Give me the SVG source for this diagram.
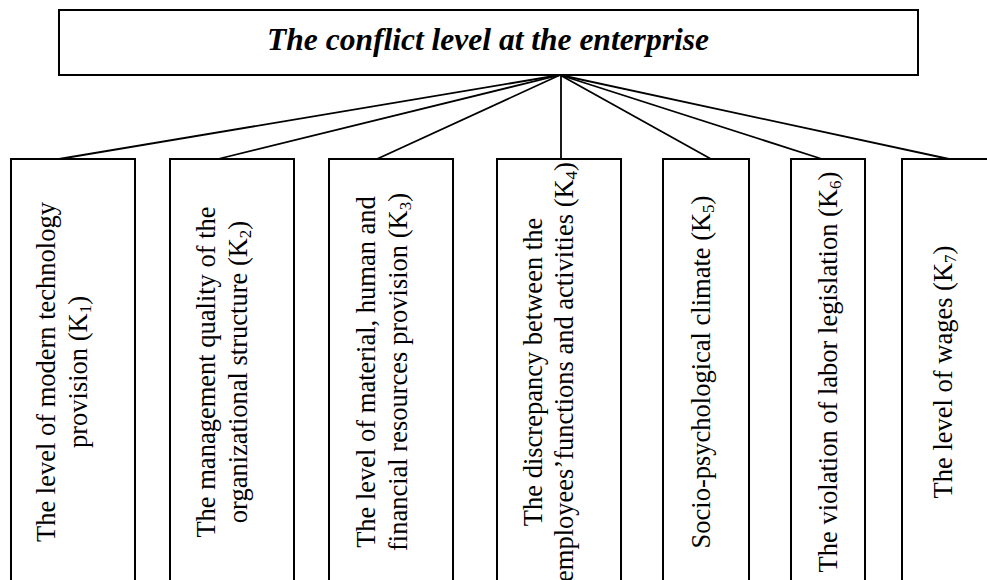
<svg xmlns="http://www.w3.org/2000/svg" width="987" height="580" viewBox="0 0 987 580">
<style>
.box{fill:#fff;stroke:#000;stroke-width:2}
.conn line{stroke:#000;stroke-width:1.8}
.t{font-family:"Liberation Serif","Times New Roman",serif;font-size:26.5px;fill:#000;text-anchor:middle}
.title{font-family:"Liberation Serif","Times New Roman",serif;font-size:31.5px;font-weight:bold;font-style:italic;fill:#000;text-anchor:middle}
.sub{font-size:17px}
</style>
<rect width="987" height="580" fill="#fff"/>
<g id="connectors" class="conn">
<line x1="560" y1="75" x2="59" y2="159"/>
<line x1="560" y1="75" x2="218" y2="159"/>
<line x1="560" y1="75" x2="377" y2="159"/>
<line x1="561" y1="75" x2="561" y2="159"/>
<line x1="560" y1="75" x2="711" y2="159"/>
<line x1="560" y1="75" x2="822" y2="159"/>
<line x1="560" y1="75" x2="949" y2="159"/>
</g>
<g id="root">
<rect class="box" x="59" y="10" width="859" height="65"/>
<text class="title" x="488" y="50">The conflict level at the enterprise</text>
</g>
<g id="k1">
<rect class="box" x="11" y="159" width="124" height="440"/>
<text class="t" transform="translate(55,372) rotate(-90)">The level of modern technology</text>
<text class="t" transform="translate(87,372) rotate(-90)">provision (K<tspan class="sub" dy="4">1</tspan><tspan dy="-4">)</tspan></text>
</g>
<g id="k2">
<rect class="box" x="170" y="159" width="124" height="440"/>
<text class="t" transform="translate(215,372) rotate(-90)">The management quality of the</text>
<text class="t" transform="translate(247,372) rotate(-90)">organizational structure (K<tspan class="sub" dy="4">2</tspan><tspan dy="-4">)</tspan></text>
</g>
<g id="k3">
<rect class="box" x="329" y="159" width="124" height="440"/>
<text class="t" transform="translate(375,372) rotate(-90)">The level of material, human and</text>
<text class="t" transform="translate(407,372) rotate(-90)">financial resources provision (K<tspan class="sub" dy="4">3</tspan><tspan dy="-4">)</tspan></text>
</g>
<g id="k4">
<rect class="box" x="497" y="159" width="124" height="440"/>
<text class="t" transform="translate(542,372) rotate(-90)">The discrepancy between the</text>
<text class="t" transform="translate(573,372) rotate(-90)">employees’functions and activities (K<tspan class="sub" dy="4">4</tspan><tspan dy="-4">)</tspan></text>
</g>
<g id="k5">
<rect class="box" x="663" y="159" width="86" height="440"/>
<text class="t" transform="translate(710,372) rotate(-90)">Socio-psychological climate (K<tspan class="sub" dy="4">5</tspan><tspan dy="-4">)</tspan></text>
</g>
<g id="k6">
<rect class="box" x="791" y="159" width="74" height="440"/>
<text class="t" transform="translate(837,372) rotate(-90)">The violation of labor legislation (K<tspan class="sub" dy="4">6</tspan><tspan dy="-4">)</tspan></text>
</g>
<g id="k7">
<rect class="box" x="902" y="159" width="120" height="440"/>
<text class="t" transform="translate(952,372) rotate(-90)">The level of wages (K<tspan class="sub" dy="4">7</tspan><tspan dy="-4">)</tspan></text>
</g>
</svg>
